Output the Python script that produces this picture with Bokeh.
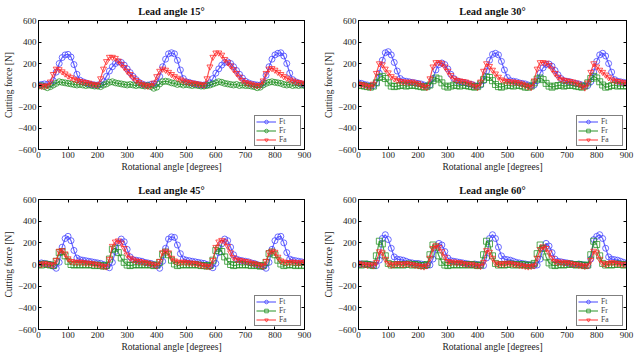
from bokeh.plotting import figure
from bokeh.layouts import gridplot
from bokeh.models import LinearAxis, FixedTicker
from bokeh.embed import file_html
from bokeh.resources import INLINE

# Rotational angle [degrees], sampled every 10 degrees
angle = list(range(0, 901, 10))

# Lead angle 15 degrees
ft15 = [0, 5, 10, 5, 10, 40, 120, 200, 255, 280,
        285, 260, 190, 100, 45, 30, 20, 10, 5, 0,
        0, 5, 30, 80, 130, 170, 200, 215, 210, 185,
        150, 115, 80, 50, 25, 10, 0, 0, 5, 10,
        20, 80, 170, 240, 290, 300, 290, 230, 140, 60,
        30, 25, 15, 10, 5, 0, 0, 5, 20, 60,
        110, 150, 185, 210, 215, 200, 170, 135, 100, 65,
        35, 20, 10, 5, 0, 0, 20, 90, 170, 240,
        280, 295, 300, 270, 200, 110, 50, 30, 20, 10,
        0]
fr15 = [-10, -5, -15, -25, -15, 0, 15, 30, 25, 20,
        15, 10, 5, 0, 5, 0, -5, 0, -5, -10,
        -10, -15, 0, 10, 25, 30, 20, 15, 10, 5,
        0, 5, 0, -5, 0, -5, -10, -5, -15, -30,
        -20, 10, 30, 35, 30, 20, 15, 5, 10, 0,
        5, 0, -5, 0, -5, -10, -10, -5, 0, 10,
        20, 30, 25, 15, 10, 5, 0, 5, -5, 0,
        -5, -5, -10, -15, -25, -20, 0, 15, 25, 30,
        25, 20, 15, 5, 0, 5, -5, 0, -5, 0,
        -5]
fa15 = [-5, -10, -10, -5, 30, 100, 150, 145, 125, 105,
        85, 70, 55, 45, 35, 30, 25, 20, 10, 5,
        0, 60, 150, 220, 260, 260, 250, 225, 195, 165,
        130, 100, 70, 45, 25, 10, 0, -10, -5, 20,
        80, 130, 150, 140, 120, 100, 80, 65, 50, 40,
        30, 25, 20, 15, 10, 5, 0, 60, 170, 260,
        300, 300, 280, 240, 210, 180, 145, 110, 75, 45,
        25, 15, 10, 0, -5, 0, 40, 110, 150, 155,
        140, 120, 100, 80, 65, 50, 40, 30, 25, 20,
        15]

# Lead angle 30 degrees
ft30 = [20, 15, 5, 0, -10, -5, 20, 110, 230, 300,
        310, 280, 210, 130, 60, 40, 35, 30, 25, 20,
        15, 10, 0, -10, 0, 60, 140, 190, 205, 190,
        150, 100, 60, 40, 30, 25, 20, 10, 5, -5,
        -10, 0, 40, 130, 230, 285, 295, 280, 220, 140,
        70, 40, 35, 30, 20, 15, 10, 0, -10, 0,
        40, 110, 160, 190, 195, 175, 135, 95, 60, 40,
        35, 30, 20, 15, 10, 0, -10, -5, 30, 120,
        220, 280, 295, 270, 200, 120, 50, 35, 30, 25,
        20]
fr30 = [0, -5, -10, -15, -20, -10, 20, 70, 80, 60,
        20, -10, -15, -10, -5, 0, -10, -5, 0, -5,
        -10, -15, -20, -15, 0, 40, 65, 55, 20, -10,
        -20, -10, 0, -5, -10, 0, -5, -10, -15, -20,
        -15, 10, 50, 75, 70, 40, 5, -15, -20, -10,
        0, -5, -10, 0, -5, -10, -20, -20, -10, 20,
        55, 65, 50, 15, -10, -20, -10, -5, 0, -10,
        -5, 0, -5, -10, -15, -20, -10, 20, 60, 80,
        65, 30, 0, -20, -15, -5, 0, -10, -5, -10,
        -5]
fa30 = [10, 5, 0, -10, -20, 10, 110, 200, 190, 150,
        115, 80, 60, 45, 35, 30, 30, 25, 30, 20,
        15, 0, -15, -20, 60, 170, 210, 210, 200, 170,
        130, 90, 60, 45, 40, 35, 30, 20, 10, -10,
        -20, 30, 130, 200, 175, 140, 105, 75, 50, 40,
        35, 30, 30, 25, 20, 10, 0, -15, -20, 40,
        150, 210, 210, 205, 185, 150, 110, 75, 55, 45,
        40, 35, 30, 20, 10, -15, -25, 20, 120, 200,
        170, 140, 120, 95, 70, 50, 40, 35, 30, 25,
        15]

# Lead angle 45 degrees
ft45 = [10, 15, 10, 5, 0, -15, -35, 20, 160, 240,
        260, 220, 130, 60, 45, 40, 35, 30, 25, 20,
        15, 10, 0, -15, -30, 20, 120, 200, 235, 210,
        140, 70, 45, 40, 35, 30, 20, 15, 10, 0,
        -10, -35, 30, 150, 235, 255, 250, 180, 100, 50,
        40, 35, 30, 25, 20, 15, 10, 0, -15, -30,
        10, 110, 190, 235, 220, 160, 90, 50, 40, 35,
        30, 25, 15, 10, 0, -10, -20, -35, 20, 140,
        220, 255, 260, 200, 110, 50, 40, 35, 30, 25,
        20]
fr45 = [0, -5, 5, 0, -5, -10, 30, 110, 120, 80,
        30, 0, -5, 0, -5, 0, -5, 0, -5, -10,
        -5, -10, -15, -10, 50, 140, 150, 110, 60, 20,
        -5, -10, -5, 0, -5, 0, -5, 0, -5, -10,
        -5, 20, 95, 115, 90, 40, 5, -10, -5, 0,
        -5, 0, -5, 0, -5, -10, -10, -15, -10, 40,
        130, 150, 120, 70, 30, 0, -10, -5, 0, -5,
        0, -5, -10, -5, -10, -15, -10, 20, 100, 115,
        90, 40, 5, -10, -5, 0, -5, -10, -5, -10,
        -5]
fa45 = [5, 0, 10, 5, 0, -5, 40, 125, 130, 100,
        55, 30, 25, 20, 25, 20, 15, 15, 10, 5,
        0, -10, -15, -20, 50, 170, 210, 220, 200, 150,
        90, 60, 45, 35, 30, 25, 20, 15, 5, 0,
        -10, 30, 110, 125, 110, 60, 35, 25, 20, 25,
        20, 15, 15, 10, 5, -5, -10, -15, -20, 40,
        160, 210, 225, 210, 170, 110, 65, 45, 40, 35,
        30, 25, 15, 10, 0, -5, -15, 30, 110, 125,
        115, 70, 35, 25, 20, 20, 25, 20, 15, 20,
        25]

# Lead angle 60 degrees
ft60 = [10, 5, 0, 5, 0, -5, -10, 40, 240, 275,
        230, 150, 70, 50, 45, 40, 30, 20, 15, 10,
        10, 5, 0, -10, -5, 50, 140, 195, 180, 120,
        60, 35, 30, 25, 20, 15, 10, 5, 0, 5,
        0, -5, -10, 60, 240, 275, 240, 160, 80, 50,
        45, 40, 30, 20, 15, 10, 5, 0, -5, -10,
        -5, 50, 150, 195, 170, 110, 50, 30, 25, 20,
        15, 10, 5, 0, 5, 0, -5, -10, 50, 230,
        260, 275, 240, 150, 70, 50, 45, 40, 30, 20,
        10]
fr60 = [0, -5, 5, 0, -5, -10, 80, 215, 190, 80,
        10, -5, 0, -5, 0, -5, 0, 5, -5, 0,
        -5, -10, -10, 0, 90, 180, 160, 80, 20, -5,
        -10, -5, 0, -5, 0, -5, 0, -5, 0, -5,
        -10, -5, 90, 215, 190, 80, 10, -5, 0, -5,
        0, 5, -5, 0, -5, 0, -5, -10, -5, 10,
        100, 180, 150, 70, 15, -5, -10, -5, 0, -5,
        0, 5, 0, -5, 0, -5, -10, -5, 90, 215,
        185, 80, 10, -5, 0, -5, 0, 5, 0, -5,
        0]
fa60 = [10, 5, 0, -5, 0, -10, 20, 120, 110, 50,
        10, -5, 0, 10, 5, 0, 10, 5, 0, -5,
        -10, -15, -20, -10, 60, 150, 175, 160, 120, 70,
        30, 20, 25, 15, 20, 10, 5, 0, 5, -5,
        -10, -15, 20, 130, 115, 60, 15, 0, 10, 5,
        15, 10, 5, 0, -5, -10, -15, -20, -15, -10,
        60, 140, 165, 150, 110, 60, 30, 20, 25, 15,
        20, 10, 5, 0, -5, -10, -15, -10, 40, 125,
        110, 50, 10, 0, 10, 20, 15, 10, 5, 0,
        5]

x_ticks = [0, 100, 200, 300, 400, 500, 600, 700, 800, 900]
y_ticks = [-600, -400, -200, 0, 200, 400, 600]

SERIF = "Liberation Serif"
C_FT, C_FR, C_FA = "#3c3cff", "#1f8f1f", "#ff2626"


def style_axis(ax, labels=True):
    ax.axis_line_color = "black"
    ax.axis_line_width = 1
    ax.major_tick_in = 3
    ax.major_tick_out = 0
    ax.major_tick_line_color = "black"
    ax.minor_tick_line_color = None
    ax.major_label_text_font = SERIF
    ax.major_label_text_font_size = "9px"
    ax.major_label_text_color = "#222222" if labels else None
    ax.major_label_standoff = 2 if labels else 0
    ax.axis_label_text_font = SERIF
    ax.axis_label_text_font_size = "9.5px"
    ax.axis_label_text_font_style = "normal"
    ax.axis_label_text_color = "#222222"
    ax.axis_label_standoff = 1


def panel(title, ft, fr, fa, fr_marker, w, h, bl, br, bt, bb):
    p = figure(width=w, height=h, output_backend="svg", toolbar_location=None,
               x_range=(0, 900), y_range=(-600, 600),
               min_border_left=bl, min_border_right=br,
               min_border_top=bt, min_border_bottom=bb,
               background_fill_color="white", border_fill_color="white")
    p.title.text = title
    p.title.align = "center"
    p.title.text_font = SERIF
    p.title.text_font_style = "bold"
    p.title.text_font_size = "10.5px"
    p.title.text_color = "#111111"
    p.title.standoff = 7
    p.grid.visible = False
    p.outline_line_color = "black"
    p.outline_line_width = 1

    p.xaxis.axis_label = "Rotational angle [degrees]"
    p.yaxis.axis_label = "Cutting force [N]"
    p.xaxis.ticker = FixedTicker(ticks=x_ticks)
    p.yaxis.ticker = FixedTicker(ticks=y_ticks)
    for ax in p.xaxis + p.yaxis:
        style_axis(ax)

    # tick marks on the opposite sides of the box, no labels
    top = LinearAxis(ticker=FixedTicker(ticks=x_ticks))
    right = LinearAxis(ticker=FixedTicker(ticks=y_ticks))
    for ax in (top, right):
        style_axis(ax, labels=False)
    p.add_layout(top, "above")
    p.add_layout(right, "right")

    series = [("Ft", ft, C_FT, "circle"), ("Fr", fr, C_FR, fr_marker),
              ("Fa", fa, C_FA, "inverted_triangle")]
    for name, vals, col, marker in series:
        p.line(angle, vals, line_color=col, line_width=1.2, line_alpha=0.8,
               legend_label=name)
        p.scatter(angle, vals, marker=marker, size=6, line_color=col,
                  fill_color=None, line_width=1, line_alpha=0.75,
                  legend_label=name)

    lg = p.legend[0]
    lg.location = "bottom_right"
    lg.margin = 3
    lg.padding = 1
    lg.spacing = 0
    lg.glyph_width = 20
    lg.glyph_height = 9
    lg.label_height = 9
    lg.label_standoff = 3
    lg.label_text_font = SERIF
    lg.label_text_font_size = "7.5px"
    lg.border_line_color = "black"
    lg.border_line_width = 1
    lg.background_fill_alpha = 1
    return p


p15 = panel("Lead angle 15\u00b0", ft15, fr15, fa15, "circle", 320, 177, 34, 15, 19, 28)
p30 = panel("Lead angle 30\u00b0", ft30, fr30, fa30, "square", 319, 177, 35, 13, 19, 27)
p45 = panel("Lead angle 45\u00b0", ft45, fr45, fa45, "square", 320, 177, 34, 16, 22, 23)
p60 = panel("Lead angle 60\u00b0", ft60, fr60, fa60, "square", 319, 177, 36, 12, 22, 24)

p = gridplot([[p15, p30], [p45, p60]], toolbar_location=None)

open("out.html", "w").write(file_html(p, INLINE))
